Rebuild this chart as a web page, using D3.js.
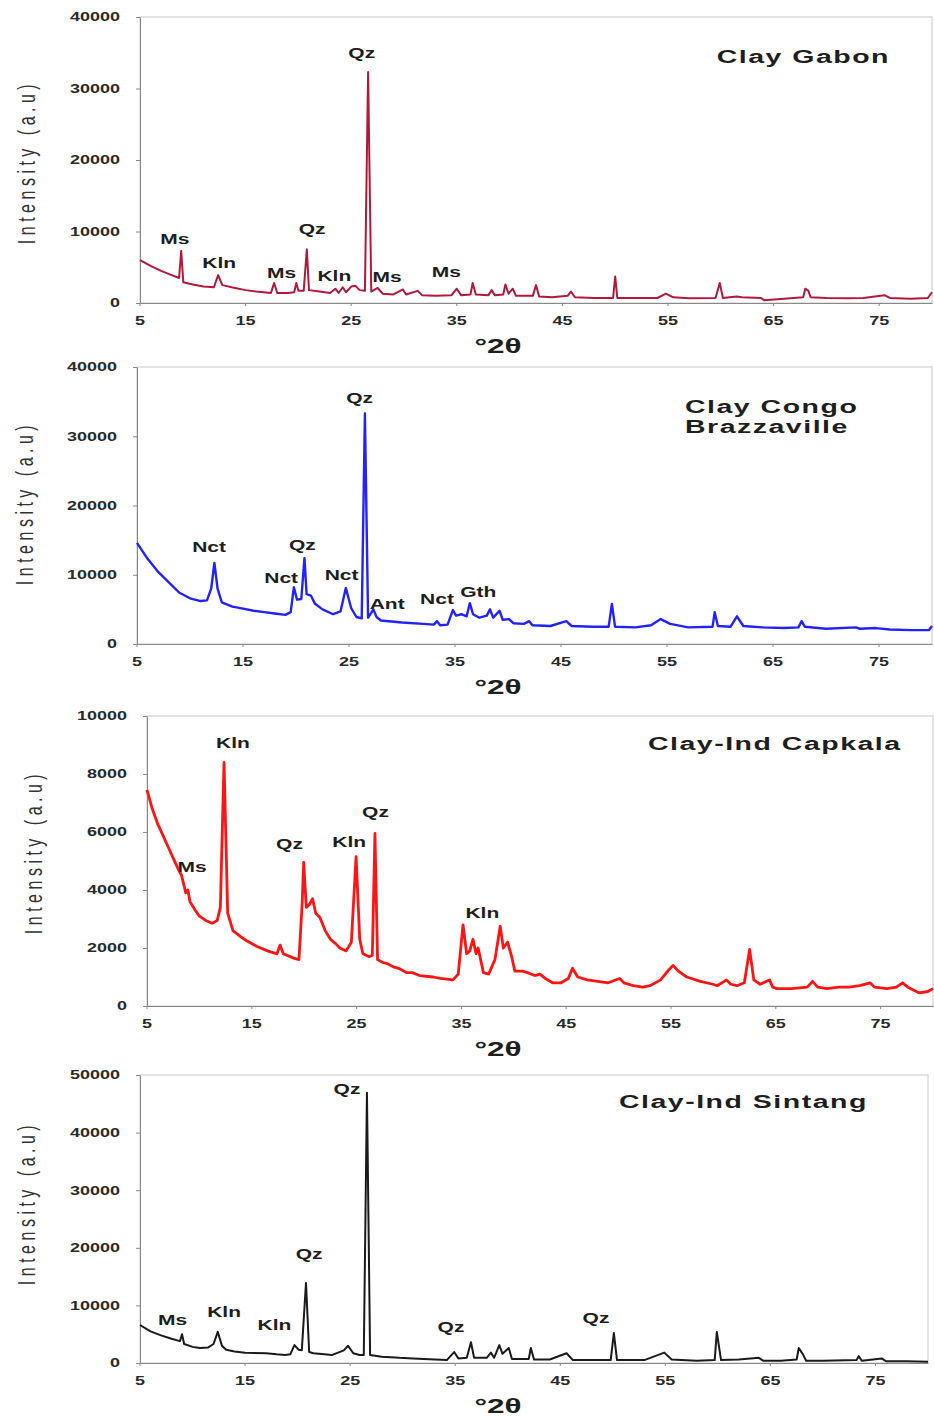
<!DOCTYPE html>
<html>
<head>
<meta charset="utf-8">
<title>XRD patterns</title>
<script src="https://d3js.org/d3.v7.min.js"></script>
<style>
  * { margin: 0; padding: 0; }
  body { background: #fff; }
  svg text { font-family: "Liberation Sans", Arial, sans-serif; fill: #1e1e1e; }
  .tick text { font-weight: bold; font-size: 12px; fill: #2a2a2a; }
  .tick line { stroke: #888; }
  .domain { stroke: #888; }
  .frame { fill: none; stroke: #c8c8c8; }
  .peak { font-weight: bold; font-size: 14px; }
  .title { font-weight: bold; font-size: 19px; letter-spacing: 1px; }
  .xlab { font-weight: bold; font-size: 21px; }
  .ylab { font-size: 16px; letter-spacing: 4.5px; fill: #333; }
</style>
</head>
<body>
<div id="chart"></div>
<script>
// x ticks (°2θ) shared by all panels
const xTicks = [5, 15, 25, 35, 45, 55, 65, 75];

// Clay Gabon
const gabonTicks = [0, 10000, 20000, 30000, 40000];
const gabon = [
  [5.0,6000],[6.0,5200],[7.0,4500],[8.0,3900],[8.7,3500],[8.9,7300],[9.1,2900],[10.0,2600],
  [11.0,2300],[12.0,2200],[12.4,3900],[12.8,2500],[14.0,2100],[15.0,1800],[16.0,1600],[17.4,1400],
  [17.7,2800],[18.0,1400],[19.0,1400],[19.6,1500],[19.8,2800],[20.0,1700],[20.5,1700],[20.8,7500],
  [21.0,1800],[22.0,1600],[23.0,1400],[23.5,2000],[23.8,1400],[24.2,2200],[24.5,1500],[25.0,2300],
  [25.4,2400],[25.8,1800],[26.3,1700],[26.6,32300],[26.9,1600],[27.5,2100],[28.0,1300],[29.0,1200],
  [29.9,1900],[30.2,1200],[31.3,1700],[31.7,1100],[33.0,1000],[34.5,1100],[35.0,2000],[35.4,1100],
  [36.3,1200],[36.5,2800],[36.8,1200],[38.0,1100],[38.3,1800],[38.6,1100],[39.4,1200],[39.6,2600],
  [39.9,1300],[40.3,2000],[40.6,1000],[42.2,1000],[42.5,2500],[42.8,900],[44.0,800],[45.5,1000],
  [45.8,1600],[46.2,800],[48.0,700],[49.8,700],[50.0,3700],[50.2,700],[52.0,700],[54.0,700],
  [54.8,1300],[55.5,800],[57.0,650],[59.5,700],[59.9,2800],[60.2,700],[61.5,900],[62.0,800],
  [63.8,700],[64.1,400],[66.0,600],[67.8,800],[68.0,2000],[68.3,1700],[68.5,800],[70.0,700],
  [72.0,650],[73.5,700],[75.5,1100],[76.0,700],[78.0,600],[79.6,700],[80.0,1500]
];
const gabonLabels = [
  ["Ms",8.3,8950],["Kln",12.5,5600],["Ms",18.4,4200],["Qz",21.3,10350],["Kln",23.4,3780],
  ["Qz",26.0,34950],["Ms",28.4,3640],["Ms",34.0,4340]
];

// Clay Congo Brazzaville
const congoTicks = [0, 10000, 20000, 30000, 40000];
const congo = [
  [5.0,14600],[6.0,12300],[7.0,10400],[8.0,8900],[9.0,7400],[10.0,6600],[11.0,6200],[11.6,6300],
  [12.0,8000],[12.3,11700],[12.6,8000],[13.0,6000],[14.0,5400],[15.0,5100],[16.0,4800],[17.0,4600],
  [18.0,4400],[19.0,4200],[19.5,4600],[19.8,8200],[20.1,6400],[20.5,6500],[20.8,12400],[21.0,7200],
  [21.4,7000],[21.8,5800],[22.5,5000],[23.5,4300],[24.2,4700],[24.7,8100],[25.2,5200],[25.7,3900],
  [26.2,3700],[26.5,33300],[26.8,3800],[27.1,4500],[27.3,5000],[27.6,3900],[28.0,3400],[30.0,3100],
  [32.0,2900],[33.0,2800],[33.3,3300],[33.6,2700],[34.3,2800],[34.8,4900],[35.1,4100],[35.6,4300],
  [36.1,4000],[36.4,5900],[36.7,4300],[37.3,3800],[38.0,4100],[38.3,5000],[38.6,3800],[39.2,4800],
  [39.5,3500],[40.1,3600],[40.5,3000],[41.5,2900],[42.0,3300],[42.3,2700],[44.0,2600],[45.5,3300],
  [46.0,2600],[48.0,2500],[49.5,2500],[49.8,5800],[50.1,2500],[52.0,2400],[53.5,2700],[54.4,3600],
  [55.3,2900],[57.0,2400],[59.3,2500],[59.5,4600],[59.8,2600],[61.0,2500],[61.6,4000],[62.2,2600],
  [64.0,2400],[66.0,2300],[67.4,2400],[67.7,3300],[68.0,2500],[70.0,2200],[72.8,2400],[73.2,2200],
  [74.7,2300],[76.0,2100],[78.0,2000],[79.7,2000],[80.0,2600]
];
const congoLabels = [
  ["Nct",11.8,14000],["Nct",18.6,9520],["Qz",20.6,14290],["Nct",24.3,9960],["Qz",26.0,35500],
  ["Ant",28.6,5770],["Nct",33.3,6490],["Gth",37.2,7500]
];

// Clay-Ind Capkala
const capkalaTicks = [0, 2000, 4000, 6000, 8000, 10000];
const capkala = [
  [5.0,7450],[5.5,6800],[6.0,6300],[6.5,5900],[7.0,5500],[7.5,5100],[8.0,4700],[8.3,4500],
  [8.7,3900],[8.9,4000],[9.1,3600],[9.6,3300],[10.0,3100],[10.6,2950],[11.2,2850],[11.7,2950],
  [12.0,3400],[12.35,8400],[12.7,3200],[13.2,2600],[13.9,2400],[14.5,2250],[15.5,2050],[16.5,1900],
  [17.4,1800],[17.7,2100],[18.0,1800],[19.0,1650],[19.5,1600],[19.8,3500],[19.95,4950],[20.2,3400],
  [20.5,3500],[20.8,3700],[21.1,3200],[21.5,3050],[22.0,2600],[22.5,2300],[23.0,2150],[23.4,2000],
  [24.0,1900],[24.5,2200],[24.95,5150],[25.3,2300],[25.6,1800],[26.2,1700],[26.5,1750],[26.75,5950],
  [27.0,1600],[27.5,1500],[28.0,1450],[28.5,1350],[29.0,1300],[29.8,1150],[30.3,1150],[31.0,1050],
  [32.3,1000],[33.0,950],[34.2,900],[34.7,1100],[35.15,2800],[35.5,1800],[35.8,1900],[36.1,2300],
  [36.4,1800],[36.6,2000],[37.1,1150],[37.6,1100],[38.2,1600],[38.7,2750],[39.0,2000],[39.4,2200],
  [39.8,1700],[40.1,1200],[40.8,1200],[41.3,1150],[42.0,1050],[42.5,1100],[43.0,950],[43.7,800],
  [44.5,800],[45.2,950],[45.6,1300],[46.1,1000],[47.0,900],[48.0,850],[49.0,800],[50.1,950],
  [50.5,800],[51.4,700],[52.3,650],[53.0,700],[54.0,900],[54.8,1250],[55.2,1400],[55.7,1200],
  [56.5,1000],[57.8,850],[59.0,750],[59.4,700],[60.3,900],[60.7,750],[61.3,700],[62.0,800],
  [62.5,1950],[62.9,900],[63.5,750],[64.4,900],[64.7,650],[65.1,600],[66.5,600],[68.0,650],
  [68.5,850],[69.0,650],[69.9,600],[71.0,650],[72.0,650],[73.0,700],[74.0,800],[74.4,650],
  [75.6,600],[76.5,650],[77.1,800],[77.6,650],[78.7,450],[79.5,500],[80.0,600]
];
const capkalaLabels = [
  ["Ms",9.3,4790],["Kln",13.2,9070],["Qz",18.6,5590],["Kln",24.3,5660],["Qz",26.8,6690],
  ["Kln",37.0,3210]
];

// Clay-Ind Sintang
const sintangTicks = [0, 10000, 20000, 30000, 40000, 50000];
const sintang = [
  [5.0,6600],[6.0,5500],[7.0,4800],[8.0,4200],[8.8,3800],[9.0,5000],[9.2,3300],[10.0,2800],
  [10.7,2600],[11.5,2700],[12.0,3300],[12.4,5400],[12.8,3000],[13.2,2300],[14.0,2000],[15.0,1800],
  [17.0,1700],[18.0,1500],[18.8,1400],[19.3,1500],[19.7,3100],[20.1,2300],[20.4,2200],[20.8,13900],
  [21.1,1900],[21.5,1700],[23.3,1400],[24.4,2200],[24.8,3000],[25.3,1700],[25.9,1400],[26.3,1400],
  [26.6,46900],[26.9,1400],[28.0,1100],[29.7,900],[31.0,800],[32.0,700],[34.2,500],[34.9,1900],
  [35.3,800],[36.1,900],[36.5,3600],[36.8,900],[38.0,900],[38.4,1800],[38.7,900],[39.2,3100],
  [39.5,1600],[40.1,2600],[40.4,700],[42.0,700],[42.2,2600],[42.5,600],[44.0,600],[45.6,1700],
  [46.2,500],[48.0,500],[49.8,500],[50.1,5200],[50.4,500],[53.0,500],[54.9,1800],[55.6,600],
  [58.0,400],[59.7,500],[59.9,5400],[60.3,500],[62.0,600],[63.9,900],[64.3,400],[66.0,400],
  [67.5,600],[67.7,2600],[68.1,1500],[68.4,400],[70.0,400],[73.2,500],[73.4,1200],[73.7,400],
  [75.6,800],[76.0,300],[78.0,300],[80.0,200]
];
const sintangLabels = [
  ["Ms",8.1,7470],["Kln",13.0,8850],["Kln",17.8,6600],["Qz",21.1,18900],["Qz",24.7,47600],
  ["Qz",34.6,6250],["Qz",48.4,7800]
];

const panels = [
  { data: gabon, labels: gabonLabels, ticks: gabonTicks, title: ["Clay Gabon"], color: "#b0193a", lw: 2,
    left: 140, right: 932, top: 17, bottom: 303, titleX: 890, titleY: 63, titleAnchor: "end", ylabX: 27, ylabY: 162 },
  { data: congo, labels: congoLabels, ticks: congoTicks, title: ["Clay Congo", "Brazzaville"], color: "#2222ff", lw: 2.4,
    left: 137, right: 932, top: 367, bottom: 644, titleX: 685, titleY: 413, titleAnchor: "start", ylabX: 25, ylabY: 503 },
  { data: capkala, labels: capkalaLabels, ticks: capkalaTicks, title: ["Clay-Ind Capkala"], color: "#ff1414", lw: 2.8,
    left: 147, right: 933, top: 716, bottom: 1006, titleX: 648, titleY: 750, titleAnchor: "start", ylabX: 34, ylabY: 852 },
  { data: sintang, labels: sintangLabels, ticks: sintangTicks, title: ["Clay-Ind Sintang"], color: "#1a1a1a", lw: 2,
    left: 140, right: 928, top: 1075, bottom: 1363, titleX: 619, titleY: 1108, titleAnchor: "start", ylabX: 27, ylabY: 1203 }
];

const W = 934, H = 1417, SX = 1.5;

const svg = d3.select("#chart").append("svg")
  .attr("width", W).attr("height", H)
  .style("background", "#fff");

panels.forEach(p => {
  const x = d3.scaleLinear().domain([5, 80]).range([p.left, p.right]);
  const y = d3.scaleLinear().domain([0, d3.max(p.ticks)]).range([p.bottom, p.top]);
  const g = svg.append("g");

  g.append("rect").attr("class", "frame")
    .attr("x", p.left).attr("y", p.top)
    .attr("width", p.right - p.left).attr("height", p.bottom - p.top);

  const xa = g.append("g")
    .attr("transform", "translate(0," + p.bottom + ")")
    .call(d3.axisBottom(x).tickValues(xTicks).tickSize(3).tickSizeOuter(0));
  xa.selectAll(".tick text").attr("y", 13).attr("transform", "scale(" + SX + ",1)")
    .attr("x", 0);
  xa.selectAll(".tick").attr("transform", d => "translate(" + x(d) + ",0)");

  const ya = g.append("g")
    .attr("transform", "translate(" + p.left + ",0)")
    .call(d3.axisLeft(y).tickValues(p.ticks).tickFormat(d3.format("d")).tickSize(4).tickSizeOuter(0));
  ya.selectAll(".tick text").attr("x", -20 / SX).attr("transform", "scale(" + SX + ",1)");

  const line = d3.line().x(d => x(d[0])).y(d => y(d[1]));
  g.append("path").datum(p.data)
    .attr("d", line)
    .attr("fill", "none")
    .attr("stroke", p.color)
    .attr("stroke-width", p.lw)
    .attr("stroke-linejoin", "round");

  g.selectAll(".peak").data(p.labels).enter().append("text")
    .attr("class", "peak")
    .attr("text-anchor", "middle")
    .attr("dy", "0.35em")
    .attr("transform", d => "translate(" + x(d[1]) + "," + y(d[2]) + ") scale(" + SX + ",1)")
    .text(d => d[0]);

  p.title.forEach((t, i) => {
    g.append("text").attr("class", "title")
      .attr("text-anchor", p.titleAnchor)
      .attr("transform", "translate(" + p.titleX + "," + (p.titleY + i * 20) + ") scale(" + SX + ",1)")
      .text(t);
  });

  g.append("text").attr("class", "xlab")
    .attr("text-anchor", "middle")
    .attr("transform", "translate(498," + (p.bottom + 50) + ") scale(" + SX + ",1)")
    .text("°2θ");

  g.append("text").attr("class", "ylab")
    .attr("text-anchor", "middle")
    .attr("dy", "0.35em")
    .attr("transform", "translate(" + p.ylabX + "," + p.ylabY + ") rotate(-90) scale(1," + SX + ")")
    .text("Intensity (a.u)");
});
</script>
</body>
</html>
